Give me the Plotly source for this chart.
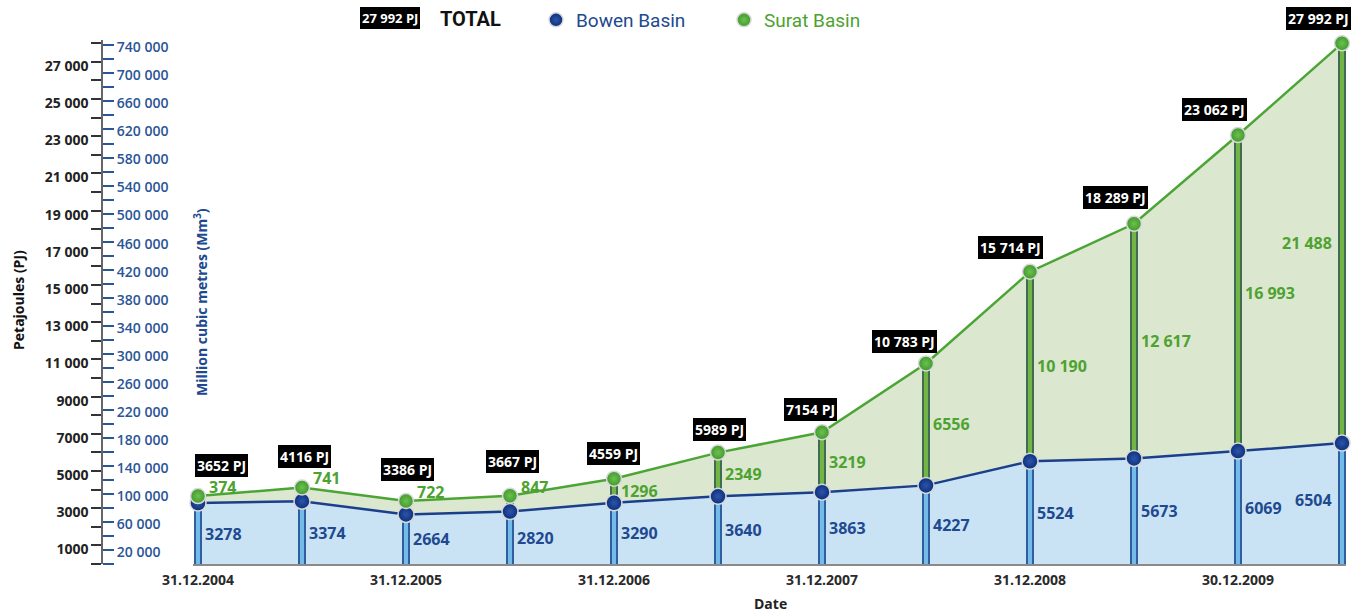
import plotly.graph_objects as go

# ---------------- data ----------------
dates = ["31.12.2004", "30.06.2005", "31.12.2005", "30.06.2006", "31.12.2006", "30.06.2007",
         "31.12.2007", "30.06.2008", "31.12.2008", "30.06.2009", "30.12.2009", "30.06.2010"]
tick_dates = ["31.12.2004", "31.12.2005", "31.12.2006", "31.12.2007", "31.12.2008", "30.12.2009"]
bowen = [3278, 3374, 2664, 2820, 3290, 3640, 3863, 4227, 5524, 5673, 6069, 6504]
surat = [374, 741, 722, 847, 1296, 2349, 3219, 6556, 10190, 12617, 16993, 21488]
total = [3652, 4116, 3386, 3667, 4559, 5989, 7154, 10783, 15714, 18289, 23062, 27992]
pj_ticks = list(range(0, 28001, 1000))
mm3_ticks = list(range(0, 740001, 20000))

# ---------------- style ----------------
W, H = 1361, 614
ML, MR, MT, MB = 0, 0, 0, 50
PLOT_TOP = 40  # px from top where the axes start
NAVY = "#1b3f8b"
NAVY_TXT = "#21498f"
GREEN = "#4ba534"
GREEN_TXT = "#4ea22f"
BLUE_FILL = "#c9e3f5"
GREEN_FILL = "#dbe8cf"
FONT = "Open Sans"
NARROW = "Liberation Sans Narrow, Roboto"

# label offsets (px) for total pills relative to their point
total_offsets = [(23, 31), (2, 31), (1, 32), (2, 34), (-1, 25), (1, 23),
                 (-12, 23), (-22, 22), (-20, 24), (-19, 26), (-24, 26), (-24, 25)]


def fmt(v):
    s = str(v)
    if v >= 10000:
        s = s[:-3] + " " + s[-3:]
    return s


idx = list(range(len(dates)))
stack_top = [b + s for b, s in zip(bowen, surat)]
tick_idx = [dates.index(d) for d in tick_dates]

pw = W - ML - MR
ph = H - MT - MB


def px_x(px):
    return (px - ML) / pw


def px_y(py):
    return (H - MB - py) / ph


fig = go.Figure()

# stacked areas
fig.add_trace(go.Scatter(x=idx, y=bowen, stackgroup="s", mode="lines",
                         line=dict(color=NAVY, width=2.5), fillcolor=BLUE_FILL,
                         showlegend=False, hoverinfo="skip"))
fig.add_trace(go.Scatter(x=idx, y=surat, stackgroup="s", mode="lines",
                         line=dict(color=GREEN, width=2.5), fillcolor=GREEN_FILL,
                         showlegend=False, hoverinfo="skip"))

# vertical pipes
bx, by, gx, gy = [], [], [], []
for i, b, t in zip(idx, bowen, stack_top):
    bx += [i, i, None]
    by += [0, b, None]
    gx += [i, i, None]
    gy += [b, t, None]
fig.add_trace(go.Scatter(x=bx, y=by, mode="lines", line=dict(color="#2f5f9e", width=8),
                         showlegend=False, hoverinfo="skip", cliponaxis=False))
fig.add_trace(go.Scatter(x=bx, y=by, mode="lines", line=dict(color="#74bbea", width=4),
                         showlegend=False, hoverinfo="skip", cliponaxis=False))
fig.add_trace(go.Scatter(x=gx, y=gy, mode="lines", line=dict(color="#3f6d52", width=8),
                         showlegend=False, hoverinfo="skip", cliponaxis=False))
fig.add_trace(go.Scatter(x=gx, y=gy, mode="lines", line=dict(color="#74b446", width=4),
                         showlegend=False, hoverinfo="skip", cliponaxis=False))

BOWEN_MARKER = dict(size=16, color="#0c2f7c", line=dict(color="#d8d8d8", width=1.5),
                    gradient=dict(type="radial", color="#2d55a8"))
SURAT_MARKER = dict(size=15, color="#3f9a2c", line=dict(color="#d8d8d8", width=1.5),
                    gradient=dict(type="radial", color="#6cc04f"))

# markers
fig.add_trace(go.Scatter(x=idx, y=bowen, mode="markers", cliponaxis=False, marker=BOWEN_MARKER,
                         showlegend=False, hoverinfo="skip"))
fig.add_trace(go.Scatter(x=idx, y=stack_top, mode="markers", cliponaxis=False, marker=SURAT_MARKER,
                         showlegend=False, hoverinfo="skip"))

# secondary axis carrier (Mm3)
fig.add_trace(go.Scatter(x=[None], y=[None], yaxis="y2", mode="markers",
                         showlegend=False, hoverinfo="skip"))

# legend entries
fig.add_trace(go.Scatter(x=[None], y=[None], mode="markers",
                         name="<span style='color:%s'>Bowen Basin</span>" % NAVY_TXT,
                         marker=dict(BOWEN_MARKER, size=14)))
fig.add_trace(go.Scatter(x=[None], y=[None], mode="markers",
                         name="<span style='color:%s'>Surat Basin</span>" % GREEN_TXT,
                         marker=dict(SURAT_MARKER, size=14)))

annotations = []
last = len(idx) - 1
for i, b, s, t, tot, off in zip(idx, bowen, surat, stack_top, total, total_offsets):
    # bowen value
    annotations.append(dict(x=i, y=b / 2, text="<b>%s</b>" % fmt(b), showarrow=False,
                            xanchor="right" if i == last else "left", yanchor="middle",
                            xshift=-8 if i == last else 5,
                            yshift=4 if i == last else 0,
                            font=dict(family=FONT, size=16, color=NAVY_TXT)))
    # surat value
    if s < 1000:
        sy, ysh = t, 9
        xsh = 9
    else:
        sy, ysh = b + s / 2, 0
        xsh = 5
    annotations.append(dict(x=i, y=sy, text="<b>%s</b>" % fmt(s), showarrow=False,
                            xanchor="right" if i == last else "left", yanchor="middle",
                            xshift=-8 if i == last else xsh, yshift=ysh,
                            font=dict(family=FONT, size=16, color=GREEN_TXT)))
    # total pill
    annotations.append(dict(x=i, y=t, text="<b>%s PJ</b>" % fmt(tot), showarrow=False,
                            xanchor="center", yanchor="middle",
                            xshift=off[0], yshift=off[1], bgcolor="#000000",
                            bordercolor="#000000", borderpad=1,
                            font=dict(family=FONT, size=14, color="#ffffff")))

annotations += [
    dict(xref="paper", yref="paper", x=px_x(390), y=px_y(18), text="<b>27 992 PJ</b>",
         xanchor="center", yanchor="middle",
         showarrow=False, bgcolor="#000000", bordercolor="#000000", borderpad=1,
         font=dict(family=FONT, size=13, color="#ffffff")),
    dict(xref="paper", yref="paper", x=px_x(438), y=px_y(19), xanchor="left", yanchor="middle",
         text="<b>TOTAL</b>",
         showarrow=False, font=dict(family=NARROW, size=20, color="#111111")),
    dict(xref="paper", yref="paper", x=px_x(18), y=px_y(300), text="<b>Petajoules (PJ)</b>",
         xanchor="center", yanchor="middle",
         textangle=-90, showarrow=False, font=dict(family=FONT, size=14, color="#111111")),
    dict(xref="paper", yref="paper", x=px_x(201), y=px_y(302),
         text="<b>Million cubic metres (Mm<sup>3</sup>)</b>", xanchor="center", yanchor="middle",
         textangle=-90, showarrow=False, font=dict(family=FONT, size=14, color=NAVY_TXT)),
    dict(xref="paper", yref="paper", x=px_x(770), y=px_y(603), text="<b>Date</b>",
         xanchor="center", yanchor="middle",
         showarrow=False, font=dict(family=FONT, size=14, color="#222222")),
]

pj_top = (H - MB - PLOT_TOP) / 18.6 * 1000
mm3_top = pj_top * 26.54
ydom = [0, px_y(PLOT_TOP)]

pj_text = [("%d" % v if v < 10000 else fmt(v)) if (v // 1000) % 2 == 1 else "" for v in pj_ticks]
mm3_text = [fmt(v) if (v // 20000) % 2 == 1 else "" for v in mm3_ticks]

fig.update_layout(
    width=W, height=H,
    margin=dict(l=ML, r=MR, t=MT, b=MB, autoexpand=False),
    paper_bgcolor="#ffffff", plot_bgcolor="rgba(0,0,0,0)",
    annotations=annotations,
    showlegend=True,
    legend=dict(orientation="h", x=px_x(536), y=px_y(20), yanchor="middle", xanchor="left",
                traceorder="normal",
                font=dict(family=NARROW, size=19),
                entrywidth=143, entrywidthmode="pixels", bgcolor="rgba(0,0,0,0)"),
    xaxis=dict(domain=[px_x(193), px_x(1346)], range=[-5 / 104, 11 + 4 / 104], automargin=False,
               showgrid=False, zeroline=False, showline=True, linecolor="#8a8a8a", linewidth=1.5,
               tickvals=tick_idx, ticktext=tick_dates, ticks="", ticklabelstandoff=2,
               tickfont=dict(family=FONT, size=14, color="#2a2a2a", weight="bold")),
    yaxis=dict(anchor="free", position=px_x(102), side="left", range=[0, pj_top], domain=ydom,
               showgrid=False, zeroline=False, showline=True, linecolor="#666666", linewidth=1.5,
               tickvals=pj_ticks, ticktext=pj_text, ticks="outside", ticklen=10, tickwidth=1.5,
               tickcolor="#333333", automargin=False, ticklabelshift=4,
               tickfont=dict(family=FONT, size=14, color="#222222", weight="bold")),
    yaxis2=dict(anchor="free", position=px_x(102), side="right", overlaying="y", range=[0, mm3_top],
                showgrid=False, zeroline=False, showline=False,
                tickvals=mm3_ticks, ticktext=mm3_text, ticks="outside", ticklen=11, tickwidth=1.5,
                tickcolor="#2a5597", automargin=False, ticklabelshift=2,
                tickfont=dict(family=FONT, size=14, color="#2a5597", weight=600)),
)

fig.write_html("out.html", config={"displayModeBar": False},
               post_script="document.body.style.margin='0';document.body.style.overflow='hidden';")
